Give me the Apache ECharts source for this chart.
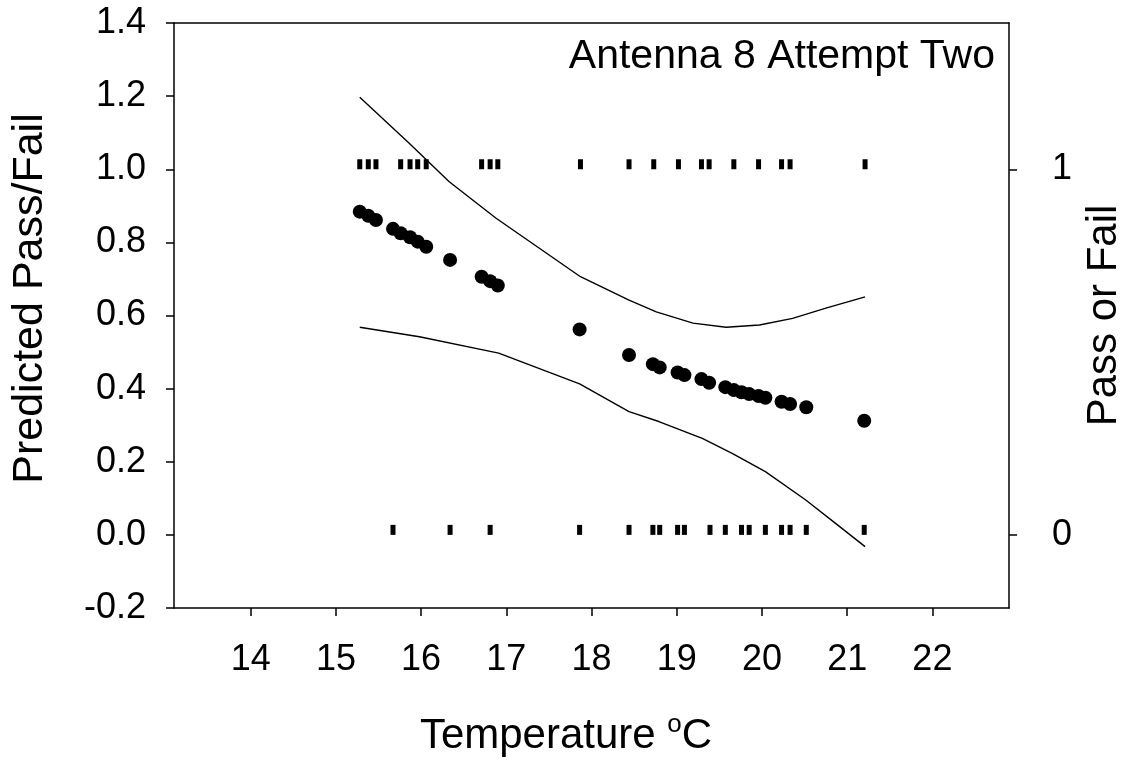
<!DOCTYPE html>
<html>
<head>
<meta charset="utf-8">
<title>Antenna 8 Attempt Two</title>
<script src="https://cdn.jsdelivr.net/npm/echarts@6/dist/echarts.min.js"></script>
<style>
  html, body { margin: 0; padding: 0; background: #fff; }
  #chart { width: 1133px; height: 761px; }
</style>
</head>
<body>
<div id="chart"></div>
<script>
// Unique test temperatures (°C) and the model's predicted probability of passing
const predTemps = [15.28, 15.38, 15.47, 15.67, 15.76, 15.87, 15.96, 16.06, 16.34, 16.71, 16.81, 16.90,
                   17.86, 18.44, 18.72, 18.80, 19.01, 19.09, 19.29, 19.38, 19.57, 19.67, 19.76, 19.85,
                   19.96, 20.04, 20.23, 20.33, 20.52, 21.20];
const predValues = [0.884, 0.873, 0.861, 0.837, 0.825, 0.814, 0.802, 0.788, 0.752, 0.706, 0.694, 0.682,
                    0.562, 0.492, 0.467, 0.458, 0.444, 0.437, 0.426, 0.416, 0.404, 0.396, 0.390, 0.385,
                    0.380, 0.375, 0.364, 0.358, 0.349, 0.312];

// Upper and lower confidence limits of the prediction
const upperTemps = [15.28, 15.86, 16.33, 16.88, 17.87, 18.44, 18.76, 19.19, 19.58, 19.97, 20.36, 20.75, 21.21];
const upperValues = [1.197, 1.071, 0.966, 0.866, 0.706, 0.642, 0.610, 0.579, 0.568, 0.574, 0.592, 0.620, 0.651];
const lowerTemps = [15.28, 15.98, 16.91, 17.86, 18.44, 18.79, 19.30, 19.65, 20.04, 20.51, 20.86, 21.21];
const lowerValues = [0.568, 0.542, 0.497, 0.413, 0.337, 0.310, 0.264, 0.223, 0.173, 0.096, 0.032, -0.032];

// Observed outcomes: temperatures of runs that passed (1) and failed (0)
const passTemps = [15.28, 15.38, 15.47, 15.76, 15.87, 15.96, 16.06, 16.71, 16.81, 16.90, 17.87,
                   18.44, 18.73, 19.02, 19.29, 19.38, 19.67, 19.96, 20.23, 20.33, 21.21];
const failTemps = [15.67, 16.34, 16.81, 17.86, 18.44, 18.72, 18.80, 19.01, 19.09, 19.39, 19.57,
                   19.76, 19.85, 20.04, 20.23, 20.33, 20.52, 21.20];

// Axis ticks
const xTicks = [14, 15, 16, 17, 18, 19, 20, 21, 22];
const outcomeTicks = [0, 1];

const FONT = "'Liberation Sans', Arial, Helvetica, sans-serif";
const AXIS_LINE = { color: '#000', width: 1.5 };

const chart = echarts.init(document.getElementById('chart'), null, { renderer: 'canvas' });

chart.setOption({
  animation: false,
  backgroundColor: '#fff',
  grid: { left: 174, right: 122, top: 23, bottom: 153, containLabel: false },
  graphic: [{
    type: 'text',
    x: 995, y: 57,
    style: {
      text: 'Antenna 8 Attempt Two',
      font: '41px ' + FONT,
      fill: '#000',
      align: 'right',
      verticalAlign: 'middle'
    }
  }, {
    // x-axis title with a superscript degree "o"
    type: 'text',
    x: 566, y: 736,
    style: {
      text: 'Temperature {sup|o}C',
      font: '42px ' + FONT,
      fill: '#000',
      align: 'center',
      verticalAlign: 'middle',
      rich: {
        sup: { font: '26px ' + FONT, fill: '#000', padding: [0, 0, 22, 0] }
      }
    }
  }],
  xAxis: [{
    type: 'value',
    min: 13.1, max: 22.9,
    position: 'bottom',
    axisLine: { show: true, onZero: false, lineStyle: AXIS_LINE },
    axisTick: { show: true, length: 8, customValues: xTicks, lineStyle: AXIS_LINE },
    axisLabel: { customValues: xTicks, fontSize: 36, fontFamily: FONT, color: '#000', margin: 34 },
    splitLine: { show: false }
  }, {
    type: 'value',
    min: 13.1, max: 22.9,
    position: 'top',
    axisLine: { show: true, onZero: false, lineStyle: AXIS_LINE },
    axisTick: { show: false },
    axisLabel: { show: false },
    splitLine: { show: false }
  }],
  yAxis: [{
    type: 'value',
    min: -0.2, max: 1.4, interval: 0.2,
    position: 'left',
    axisLine: { show: true, onZero: false, lineStyle: AXIS_LINE },
    axisTick: { show: true, length: 8, lineStyle: AXIS_LINE },
    axisLabel: {
      fontSize: 36, fontFamily: FONT, color: '#000', margin: 28,
      formatter: v => v.toFixed(1)
    },
    splitLine: { show: false },
    name: 'Predicted Pass/Fail',
    nameLocation: 'middle',
    nameRotate: 90,
    nameGap: 122,
    nameTextStyle: { fontSize: 43, fontFamily: FONT, color: '#000', padding: [0, 0, 0, 34] }
  }, {
    type: 'value',
    min: -0.2, max: 1.4,
    position: 'right',
    axisLine: { show: true, onZero: false, lineStyle: AXIS_LINE },
    axisTick: { show: true, length: 8, customValues: outcomeTicks, lineStyle: AXIS_LINE },
    axisLabel: {
      customValues: outcomeTicks, fontSize: 36, fontFamily: FONT, color: '#000', margin: 43,
      formatter: v => String(Math.round(v))
    },
    splitLine: { show: false },
    name: 'Pass or Fail',
    nameLocation: 'middle',
    nameRotate: 90,
    nameGap: 72,
    nameTextStyle: { fontSize: 42, fontFamily: FONT, color: '#000' }
  }],
  series: [{
    name: 'Upper limit',
    type: 'line',
    xAxisIndex: 0, yAxisIndex: 0,
    data: upperTemps.map((t, i) => [t, upperValues[i]]),
    showSymbol: false,
    smooth: false,
    lineStyle: { color: '#000', width: 1.4 },
    z: 2
  }, {
    name: 'Lower limit',
    type: 'line',
    xAxisIndex: 0, yAxisIndex: 0,
    data: lowerTemps.map((t, i) => [t, lowerValues[i]]),
    showSymbol: false,
    smooth: false,
    lineStyle: { color: '#000', width: 1.4 },
    z: 2
  }, {
    name: 'Predicted',
    type: 'scatter',
    xAxisIndex: 0, yAxisIndex: 0,
    data: predTemps.map((t, i) => [t, predValues[i]]),
    symbol: 'circle',
    symbolSize: 14,
    itemStyle: { color: '#000', opacity: 1 },
    z: 3
  }, {
    name: 'Pass',
    type: 'scatter',
    xAxisIndex: 0, yAxisIndex: 1,
    data: passTemps.map(t => [t, 1]),
    symbol: 'rect',
    symbolSize: [5, 10],
    symbolOffset: [0, -5],
    itemStyle: { color: '#000', opacity: 1 },
    z: 3
  }, {
    name: 'Fail',
    type: 'scatter',
    xAxisIndex: 0, yAxisIndex: 1,
    data: failTemps.map(t => [t, 0]),
    symbol: 'rect',
    symbolSize: [5, 10],
    symbolOffset: [0, -5],
    itemStyle: { color: '#000', opacity: 1 },
    z: 3
  }]
});
</script>
</body>
</html>
